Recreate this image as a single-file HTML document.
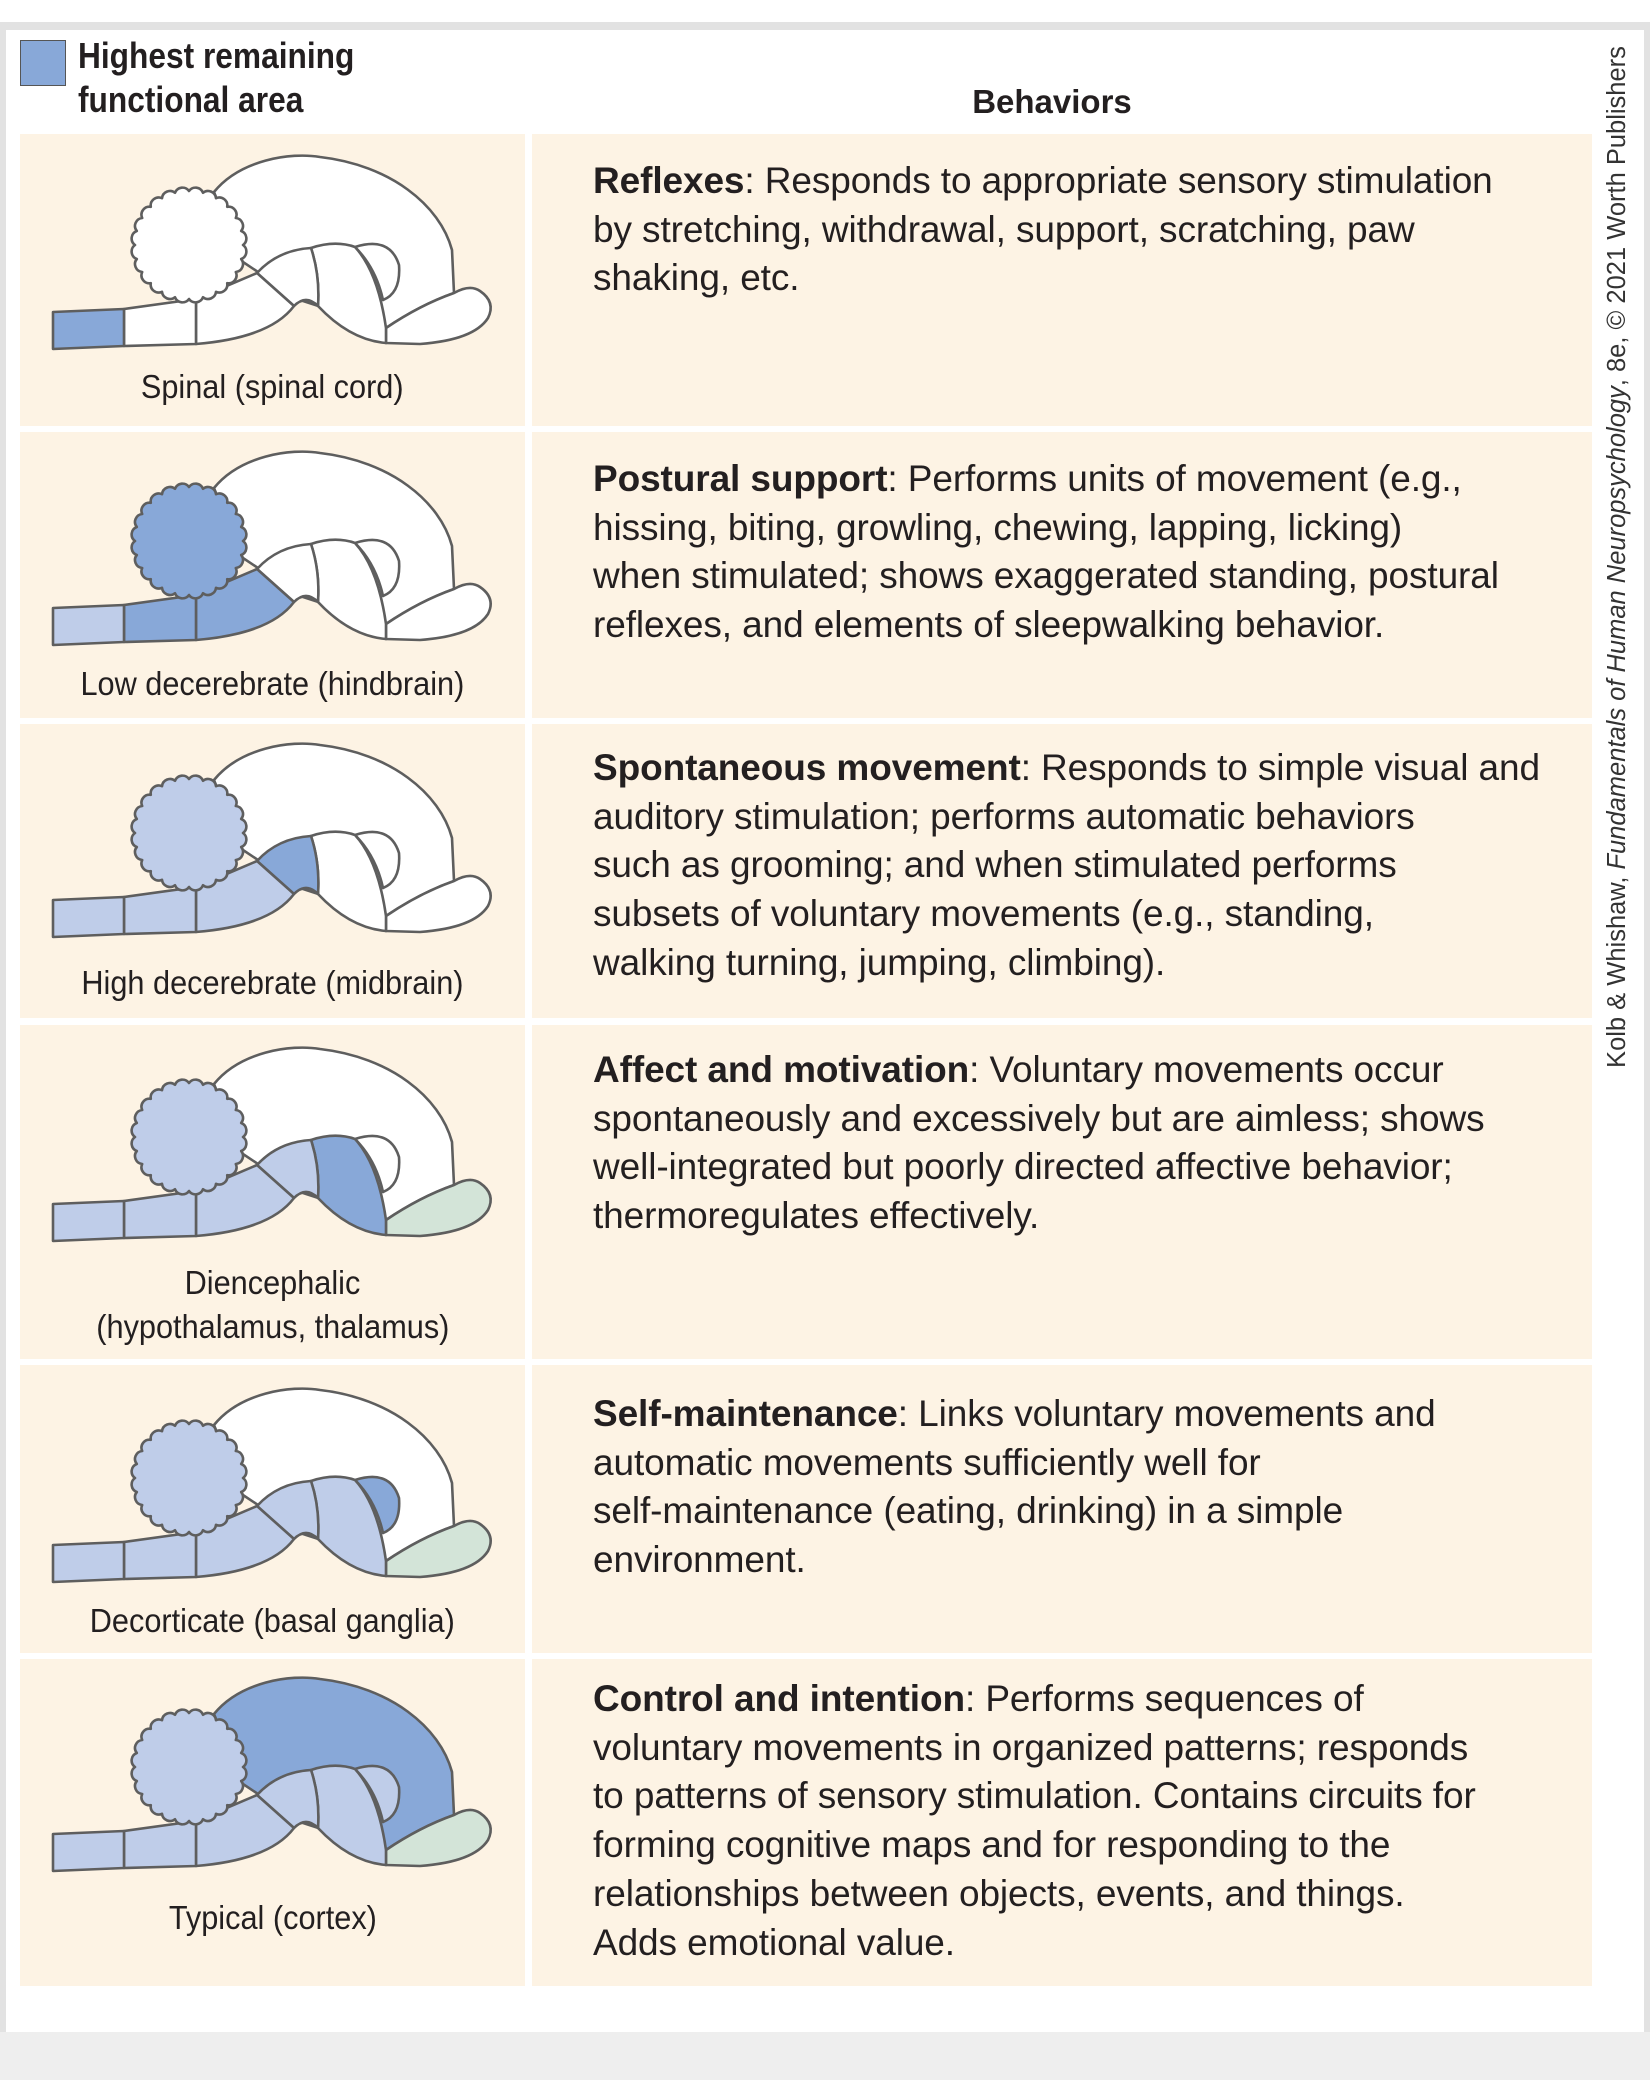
<!DOCTYPE html>
<html><head><meta charset="utf-8">
<style>
html,body{margin:0;padding:0}
body{width:1650px;height:2080px;position:relative;background:#fff;overflow:hidden;font-family:"Liberation Sans",sans-serif;color:#231f20}
.abs{position:absolute}
.cell{position:absolute;background:#fdf3e4}
.lbl{position:absolute;left:20px;width:505px;text-align:center;font-size:33px;line-height:44px;white-space:nowrap}
.lbl span{display:inline-block;transform:scaleX(0.93)}
.txt{position:absolute;left:593px;font-size:37px;line-height:48.7px;white-space:nowrap;color:#231f20;letter-spacing:-0.1px}
.txt b{font-weight:bold}
svg{position:absolute;left:0;top:0}
</style></head><body>
<div class="abs" style="left:0;top:22px;width:1650px;height:8px;background:#e2e2e2"></div>
<div class="abs" style="left:0;top:22px;width:6px;height:2058px;background:#e2e2e2"></div>
<div class="abs" style="left:1644px;top:22px;width:6px;height:2058px;background:#e2e2e2"></div>
<div class="abs" style="left:0;top:2032px;width:1650px;height:48px;background:#eeeeee"></div>

<div class="abs" style="left:20px;top:40px;width:44px;height:44px;background:#88a8d8;border:1.5px solid #555"></div>
<div class="abs" style="left:78px;top:34px;font-size:36px;line-height:44px;font-weight:bold;white-space:nowrap;transform:scaleX(0.88);transform-origin:0 0">Highest remaining<br>functional area</div>
<div class="abs" style="left:952px;top:80px;width:200px;text-align:center;font-size:33px;line-height:44px;font-weight:bold">Behaviors</div>

<div class="abs" style="left:1617px;top:557px;width:0;height:0"><div style="position:absolute;left:-560px;top:-15px;width:1120px;text-align:center;font-size:25.5px;line-height:30px;white-space:nowrap;transform:rotate(-90deg);color:#333">Kolb &amp; Whishaw, <i>Fundamentals of Human Neuropsychology</i>, 8e, © 2021 Worth Publishers</div></div>

<div class="cell" style="left:20px;top:134px;width:505px;height:292px"></div>
<div class="cell" style="left:532px;top:134px;width:1060px;height:292px"></div>
<div class="cell" style="left:20px;top:432px;width:505px;height:286px"></div>
<div class="cell" style="left:532px;top:432px;width:1060px;height:286px"></div>
<div class="cell" style="left:20px;top:724px;width:505px;height:294px"></div>
<div class="cell" style="left:532px;top:724px;width:1060px;height:294px"></div>
<div class="cell" style="left:20px;top:1025px;width:505px;height:334px"></div>
<div class="cell" style="left:532px;top:1025px;width:1060px;height:334px"></div>
<div class="cell" style="left:20px;top:1365px;width:505px;height:288px"></div>
<div class="cell" style="left:532px;top:1365px;width:1060px;height:288px"></div>
<div class="cell" style="left:20px;top:1659px;width:505px;height:327px"></div>
<div class="cell" style="left:532px;top:1659px;width:1060px;height:327px"></div>

<svg width="1650" height="2080" viewBox="0 0 1650 2080">
<defs>
<symbol id="brain" overflow="visible">
<g stroke="#5e5e5e" stroke-width="2.6" stroke-linejoin="round">
<path style="fill:var(--h)" d="M214,192 C240,160 290,152 320,157 C390,165 440,205 452,250 L454,293 Q420,305 386,328 L300,300 L240,260 Z"/>
<path style="fill:var(--i)" d="M386,328 Q420,305 454,293 Q470,284 480,291 Q496,302 488,318 Q474,340 420,344 L386,343 Z"/>
<path style="fill:var(--g)" d="M355,247 Q390,236 399,265 Q401,293 383,300 Q376,268 355,247 Z"/>
<path style="fill:var(--f)" d="M311,248 Q335,240 355,247 Q378,272 386,328 L386,343 Q350,340 318,306 Q320,275 311,248 Z"/>
<path style="fill:var(--e)" d="M257,273 Q278,250 311,248 Q320,275 318,306 Q306,294 294,306 Z"/>
<path style="fill:var(--c)" d="M196,299 L257,273 L294,306 Q270,338 196,344 Z"/>
<path style="fill:var(--b)" d="M124,309 L196,299 L196,344 L124,346 Z"/>
<path style="fill:var(--a)" d="M53,312 L124,309 L124,346 L53,349 Z"/>
<path style="fill:var(--d)" d="M243,245 A8,8 0 0 1 241.2,259 A8,8 0 0 1 235.8,272 A8,8 0 0 1 227.2,283.2 A8,8 0 0 1 216,291.8 A8,8 0 0 1 203,297.2 A8,8 0 0 1 189,299 A8,8 0 0 1 175,297.2 A8,8 0 0 1 162,291.8 A8,8 0 0 1 150.8,283.2 A8,8 0 0 1 142.2,272 A8,8 0 0 1 136.8,259 A8,8 0 0 1 135,245 A8,8 0 0 1 136.8,231 A8,8 0 0 1 142.2,218 A8,8 0 0 1 150.8,206.8 A8,8 0 0 1 162,198.2 A8,8 0 0 1 175,192.8 A8,8 0 0 1 189,191 A8,8 0 0 1 203,192.8 A8,8 0 0 1 216,198.2 A8,8 0 0 1 227.2,206.8 A8,8 0 0 1 235.8,218 A8,8 0 0 1 241.2,231 A8,8 0 0 1 243,245 Z"/>
</g>
</symbol>
</defs>
<use href="#brain" x="0" y="0" style="--a:#88a8d8;--b:#fff;--c:#fff;--d:#fff;--e:#fff;--f:#fff;--g:#fff;--h:#fff;--i:#fff"/>
<use href="#brain" x="0" y="296" style="--a:#bfcde9;--b:#88a8d8;--c:#88a8d8;--d:#88a8d8;--e:#fff;--f:#fff;--g:#fff;--h:#fff;--i:#fff"/>
<use href="#brain" x="0" y="588" style="--a:#bfcde9;--b:#bfcde9;--c:#bfcde9;--d:#bfcde9;--e:#88a8d8;--f:#fff;--g:#fff;--h:#fff;--i:#fff"/>
<use href="#brain" x="0" y="892" style="--a:#bfcde9;--b:#bfcde9;--c:#bfcde9;--d:#bfcde9;--e:#bfcde9;--f:#88a8d8;--g:#fff;--h:#fff;--i:#d3e4d8"/>
<use href="#brain" x="0" y="1233" style="--a:#bfcde9;--b:#bfcde9;--c:#bfcde9;--d:#bfcde9;--e:#bfcde9;--f:#bfcde9;--g:#88a8d8;--h:#fff;--i:#d3e4d8"/>
<use href="#brain" x="0" y="1522" style="--a:#bfcde9;--b:#bfcde9;--c:#bfcde9;--d:#bfcde9;--e:#bfcde9;--f:#bfcde9;--g:#bfcde9;--h:#88a8d8;--i:#d3e4d8"/>
</svg>

<div class="lbl" style="top:365px"><span>Spinal (spinal cord)</span></div>
<div class="lbl" style="top:662px"><span>Low decerebrate (hindbrain)</span></div>
<div class="lbl" style="top:961px"><span>High decerebrate (midbrain)</span></div>
<div class="lbl" style="top:1261px"><span>Diencephalic</span><br><span>(hypothalamus, thalamus)</span></div>
<div class="lbl" style="top:1599px"><span>Decorticate (basal ganglia)</span></div>
<div class="lbl" style="top:1896px"><span>Typical (cortex)</span></div>

<div class="txt" style="top:157px"><b>Reflexes</b>: Responds to appropriate sensory stimulation<br>by stretching, withdrawal, support, scratching, paw<br>shaking, etc.</div>
<div class="txt" style="top:455px"><b>Postural support</b>: Performs units of movement (e.g.,<br>hissing, biting, growling, chewing, lapping, licking)<br>when stimulated; shows exaggerated standing, postural<br>reflexes, and elements of sleepwalking behavior.</div>
<div class="txt" style="top:744px"><b>Spontaneous movement</b>: Responds to simple visual and<br>auditory stimulation; performs automatic behaviors<br>such as grooming; and when stimulated performs<br>subsets of voluntary movements (e.g., standing,<br>walking turning, jumping, climbing).</div>
<div class="txt" style="top:1046px"><b>Affect and motivation</b>: Voluntary movements occur<br>spontaneously and excessively but are aimless; shows<br>well-integrated but poorly directed affective behavior;<br>thermoregulates effectively.</div>
<div class="txt" style="top:1390px"><b>Self-maintenance</b>: Links voluntary movements and<br>automatic movements sufficiently well for<br>self-maintenance (eating, drinking) in a simple<br>environment.</div>
<div class="txt" style="top:1675px"><b>Control and intention</b>: Performs sequences of<br>voluntary movements in organized patterns; responds<br>to patterns of sensory stimulation. Contains circuits for<br>forming cognitive maps and for responding to the<br>relationships between objects, events, and things.<br>Adds emotional value.</div>
</body></html>
